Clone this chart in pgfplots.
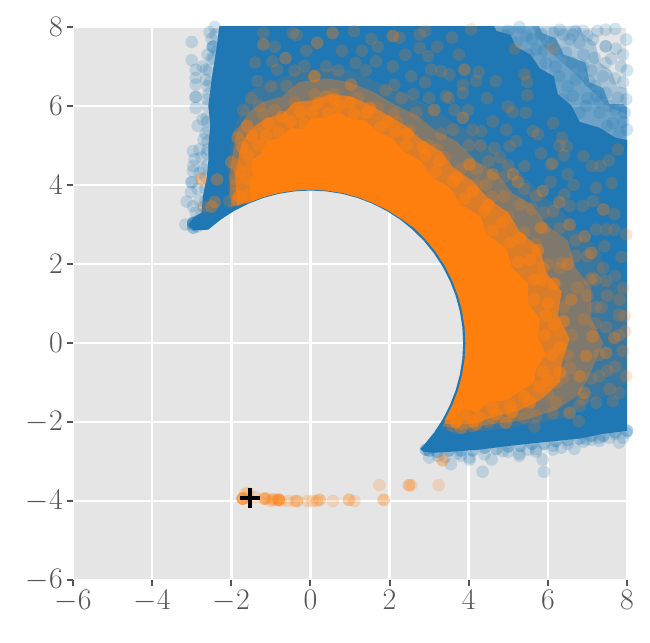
\documentclass[border=0pt]{standalone}
\usepackage{pgfplots}
\pgfplotsset{compat=1.18}
\definecolor{bgg}{HTML}{E5E5E5}
\definecolor{tk}{HTML}{555555}
\definecolor{tblue}{HTML}{1F77B4}
\definecolor{torange}{HTML}{FF7F0E}
\pgfplotsset{
  area/.style={draw=none,fill=#1,mark=none,forget plot},
  dots/.style={only marks,mark=*,mark size=6.3pt,forget plot,
    mark options={draw=#1,line width=0pt,draw opacity=0,fill=#1,fill opacity=0.2}},
  thick dots/.style={only marks,mark=*,mark size=6.3pt,forget plot,
    mark options={draw=#1,line width=0pt,draw opacity=0,fill=#1,fill opacity=0.5}},
}
\begin{document}
\begin{tikzpicture}[x=1pt,y=1pt]
\begin{axis}[
  at={(0,0)},anchor=south west,scale only axis,width=554pt,height=553pt,
  xmin=-6,xmax=8,ymin=-6,ymax=8,
  xtick={-6,-4,-2,0,2,4,6,8},ytick={-6,-4,-2,0,2,4,6,8},
  xtick pos=bottom,ytick pos=left,tick align=outside,
  major tick length=6pt,
  tick style={color=tk,line width=2pt},
  grid=major,grid style={white,line width=2.5pt},
  axis line style={draw=none},
  axis background/.style={fill=bgg},
  tick label style={font=\fontsize{24.88}{30}\selectfont,text=tk,scale=1.2},
]
% solid blue mass
\addplot[area=tblue] coordinates {
 (-2.95,2.85)(-3.08,3.0)(-2.95,3.18)(-2.75,3.3)(-2.72,3.7)(-2.62,4.2)(-2.58,4.6)(-2.58,5)(-2.53,5.5)(-2.58,6)(-2.53,6.4)(-2.48,6.8)(-2.38,7.4)(-2.28,8.2)
 (4.55,8.2)(4.7,7.9)(5.05,7.8)(5.2,7.5)(5.56,7.3)(5.8,6.95)(6.15,6.75)(6.25,6.3)(6.6,6.0)(6.8,5.6)(7.3,5.45)(7.7,5.2)(8.2,5.1)
 (8.2,-2.2)(7.4,-2.3)(6.8,-2.42)(6.2,-2.48)(5.53,-2.55)(4.9,-2.62)(4.27,-2.7)(3.6,-2.75)(3.1,-2.78)(2.85,-2.75)(2.777,-2.681)
 (2.869,-2.583)(3.123,-2.269)(3.343,-1.93)(3.526,-1.57)(3.671,-1.193)(3.776,-.803)(3.839,-.403)(3.86,0)
 (3.839,.403)(3.776,.803)(3.671,1.193)(3.526,1.57)(3.343,1.93)(3.123,2.269)(2.869,2.583)(2.583,2.869)
 (2.269,3.123)(1.93,3.343)(1.57,3.526)(1.193,3.671)(.803,3.776)(.403,3.839)(0,3.86)(-.403,3.839)
 (-.803,3.776)(-1.193,3.671)(-1.57,3.526)(-1.93,3.343)(-2.269,3.123)(-2.583,2.869)} --cycle;
% thinning blue towards the upper right corner
\addplot[area=tblue,fill opacity=0.6] coordinates {
 (4.3,8.2)(5.7,8.2)(5.85,7.85)(6.2,7.7)(6.4,7.3)(6.95,7.1)(7.05,6.6)(7.4,6.45)(7.55,6.05)(7.9,6.05)(8.2,5.8)(8.2,4.9)(7,5)(6,6)(5,7)} --cycle;
\addplot[area=tblue,fill opacity=0.3] coordinates {
 (5.5,8.2)(6.7,8.2)(6.9,7.8)(7.2,7.6)(7.3,7.1)(7.6,6.9)(7.75,6.5)(8.2,6.4)(8.2,5.7)(7.5,6)(6.7,6.8)(5.9,7.5)} --cycle;
\addplot[dots=tblue] coordinates {
 (-3,7.62)(-3,7.16)(-2.9,6.92)(-2.9,6.71)(-2.9,6.54)(-2.9,6.23)(-2.9,6.23)(-2.9,5.95)(-2.85,5.5)(-2.73,5.66)
 (-2.7,5.15)(-2.97,4.86)(-2.8,4.9)(-2.93,4.65)(-2.96,4.48)(-2.97,4.35)(-3,4.07)(-3,4.07)(-3.02,3.82)(-3.13,3.58)
 (-2.97,3.46)(-3.16,3)(-2.96,3.04)(-2.96,3.04)(-2.96,3.04)(-2.96,3.04)(-2.96,2.92)(-2.96,2.92)(-2.73,3.13)(-2.64,6.92)
 (-2.6,6.17)(-2.47,7.5)(-2.47,7.5)(-2.55,7.87)(-2.64,6.67)(-2.73,7)(-2.35,7.4)(-2.6,5.6)(-2.65,5.3)(-2.6,4.9)
 (-2.6,7.3)(-2.5,7.7)(-2.45,7.2)(-2.6,6.5)(-2.7,4.4)(-2.75,4.7)(-2.8,4.3)(-2.85,3.9)(-2.8,3.6)(-2.9,3.3)
 (4.35,-3.26)(5.9,-3.26)(5.87,-2.95)(3.55,-3.07)(3,-2.9)(3.22,-2.86)(4.02,-2.95)(4.02,-2.9)(4.58,-2.95)(5.28,-2.86)
 (5.28,-2.8)(5.7,-2.69)(5.7,-2.75)(6.12,-2.6)(6.12,-2.7)(6.67,-2.68)(6.34,-2.65)(7.3,-2.48)(7.3,-2.4)(7.8,-2.52)
 (7.98,-2.27)(6.97,-2.44)(4.86,-2.74)(2.92,-2.7)(2.92,-2.7)(3.8,-2.85)(4.4,-2.82)(5.0,-2.75)(6.5,-2.55)(7.1,-2.45)
 (7.55,-2.4)(7.7,-2.3)(7.9,-2.4)(3.4,-2.88)(3.7,-2.8)(5.5,-2.7)(6.9,-2.5)
 (6.63,7.8)(7,7.78)(7.46,7.51)(7.46,7.51)(7.72,7.45)(7.85,7)(7.18,7.22)(6.89,7)(6.46,7.35)(5.83,7.81)
 (5.45,7.77)(6.13,7.85)(7.39,6.75)(7.05,6.63)(7.77,6.21)(7.47,6.33)(7.94,5.83)(7.64,5.57)(7.3,5.83)(6.97,6)
 (6.63,6.25)(6.29,6.75)(5.95,7.09)(5.7,7.43)(6.71,6.67)(7.3,5.24)(7.8,5.32)(6.8,5.83)(6.38,6.17)(7.14,7.68)
 (6.8,7.6)(4.94,7.77)(5.28,8)(6.3,7.93)(7.98,7.68)(7.46,7.93)(7.9,6.6)(7.46,7.09)(6.55,7.68)(6.21,7.43)
 (7.22,6.25)(7.55,6)(7.98,6.17)(6.6,7.1)(6.9,7.3)(6.2,7.0)(7.1,6.9)(7.7,6.7)(6.5,6.5)(7.2,6.5)
 (5.6,7.7)(5.9,7.4)(6.1,7.6)(6.7,7.9)(7,6.2)(7.3,6.1)(7.7,5.9)(7.9,5.6)(7.5,5.5)(8,5.4)
 (5,7.9)(5.2,7.6)(5.5,7.3)(6.4,7.8)(6.9,7.9)(7.25,7.9)(7.9,7.3)(7.7,7.95)(8,6.9)(7.6,7.2)
};
\addplot[dots=tblue] coordinates {
 (-2.6,3.35)(-2.65,3.6)(-2.65,3.9)(-2.65,4.2)(-2.6,4.5)(-2.62,4.8)(-2.6,5.1)(-2.58,5.4)(-2.62,5.7)(-2.6,6)(-2.58,6.3)(-2.55,6.6)(-2.56,6.9)
 (-2.5,7.2)(-2.45,7.5)(-2.4,7.8)(-2.42,8.0)(-2.85,3.1)(-2.75,3.25)(-2.7,3.45)(-2.96,3.0)(-2.96,3.0)(-2.85,2.95)
 (3,-2.72)(3.2,-2.75)(3.5,-2.72)(3.8,-2.72)(4.1,-2.72)(4.4,-2.65)(4.7,-2.68)(5,-2.62)(5.3,-2.6)(5.6,-2.55)(5.9,-2.55)
 (6.2,-2.48)(6.5,-2.45)(6.8,-2.42)(7.1,-2.35)(7.4,-2.35)(7.7,-2.25)(8,-2.22)
 (3,-2.72)(3.2,-2.75)(3.5,-2.72)(3.8,-2.72)(4.1,-2.72)(4.4,-2.65)(4.7,-2.68)(5,-2.62)(5.3,-2.6)(5.6,-2.55)(5.9,-2.55)
 (6.2,-2.48)(6.5,-2.45)(6.8,-2.42)(7.1,-2.35)(7.4,-2.35)(7.7,-2.25)(8,-2.22)
};
% orange density, from thin to solid
\addplot[area=torange,fill opacity=0.12] coordinates {
 (-2.05,3.4)(-2.1,4.4)(-2.0,5.1)(-1.8,5.8)(-1.5,6.4)(-1,6.6)(-.4,6.85)(.3,6.95)(1,6.9)(1.7,6.6)(2.4,6.3)(3,6)(3.6,5.6)(4.1,5.3)
 (4.7,4.8)(5.2,4.4)(5.8,3.8)(6.3,3.4)(6.8,2.8)(7.3,2.4)(7.5,1.6)(8.2,1.3)(8.2,-.9)(7.6,-1.3)(7,-1.5)(6.4,-1.9)(5.6,-2.05)(4.6,-2.2)(3.7,-2.3)(3.3,-2.15)
 (3.395,-1.96)(3.581,-1.594)(3.728,-1.211)(3.834,-.815)(3.899,-.41)(3.92,0)(3.899,.41)(3.834,.815)(3.728,1.211)
 (3.581,1.594)(3.395,1.96)(3.171,2.304)(2.913,2.623)(2.623,2.913)(2.29,3.15)(1.945,3.37)(1.58,3.549)(1.2,3.695)
 (.808,3.8)(.406,3.864)(0,3.885)(-.406,3.864)(-.808,3.8)(-1.2,3.695)(-1.58,3.549)} --cycle;
\addplot[area=torange,fill opacity=0.35] coordinates {
 (-2.0,3.45)(-2.05,4.2)(-1.95,4.9)(-1.85,5.4)(-1.55,5.85)(-1.2,6.1)(-.7,6.25)(-.3,6.6)(.4,6.7)(1,6.6)(1.6,6.35)(2.1,6.05)(2.7,5.75)(3.2,5.35)
 (3.7,5.1)(4.2,4.6)(4.7,4.3)(5.1,3.8)(5.6,3.5)(6,2.95)(6.5,2.6)(6.7,1.9)(7.1,1.4)(7.1,.6)(7.4,0)(7.1,-.7)(6.8,-1.3)(6.2,-1.7)(5.4,-1.95)(4.6,-2.05)(3.8,-2.2)(3.35,-2.1)
 (3.395,-1.96)(3.581,-1.594)(3.728,-1.211)(3.834,-.815)(3.899,-.41)(3.92,0)(3.899,.41)(3.834,.815)(3.728,1.211)
 (3.581,1.594)(3.395,1.96)(3.171,2.304)(2.913,2.623)(2.623,2.913)(2.29,3.15)(1.945,3.37)(1.58,3.549)(1.2,3.695)
 (.808,3.8)(.406,3.864)(0,3.885)(-.406,3.864)(-.808,3.8)(-1.2,3.695)(-1.58,3.549)} --cycle;
\addplot[area=torange,fill opacity=0.72] coordinates {
 (-1.85,3.5)(-1.9,4.2)(-1.8,4.8)(-1.7,5.15)(-1.4,5.5)(-1.1,5.7)(-.7,5.8)(-.4,6.1)(.1,6.15)(.5,6.3)(1,6.25)(1.45,6.05)(1.9,5.8)(2.4,5.5)
 (2.8,5.15)(3.3,4.85)(3.6,4.45)(4.1,4.1)(4.5,3.65)(5,3.3)(5.3,2.8)(5.8,2.4)(5.95,1.8)(6.35,1.3)(6.25,.7)(6.55,.1)(6.35,-.5)(6.3,-1)(5.8,-1.45)(5.3,-1.7)(4.7,-1.85)(4.1,-2.05)(3.4,-2.05)
 (3.395,-1.96)(3.581,-1.594)(3.728,-1.211)(3.834,-.815)(3.899,-.41)(3.92,0)(3.899,.41)(3.834,.815)(3.728,1.211)
 (3.581,1.594)(3.395,1.96)(3.171,2.304)(2.913,2.623)(2.623,2.913)(2.29,3.15)(1.945,3.37)(1.58,3.549)(1.2,3.695)
 (.808,3.8)(.406,3.864)(0,3.885)(-.406,3.864)(-.808,3.8)(-1.2,3.695)(-1.58,3.549)} --cycle;
\addplot[area=torange] coordinates {
 (-1.5,3.6)(-1.55,4)(-1.45,4.3)(-1.5,4.6)(-1.25,4.8)(-1.1,5.1)(-.75,5.2)(-.5,5.45)(-.2,5.4)(.05,5.7)(.4,5.7)(.7,5.85)(1.05,5.65)(1.35,5.65)
 (1.7,5.35)(2.05,5.2)(2.35,4.85)(2.8,4.6)(3.05,4.2)(3.5,3.95)(3.8,3.5)(4.3,3.2)(4.45,2.75)(4.95,2.4)(5.1,1.9)(5.5,1.5)(5.5,1.0)(5.8,.6)
 (5.75,.15)(5.95,-.3)(5.7,-.65)(5.65,-1.0)(5.25,-1.25)(4.95,-1.45)(4.5,-1.5)(4.2,-1.75)(3.85,-1.65)(3.65,-1.9)(3.45,-1.95)
 (3.395,-1.96)(3.581,-1.594)(3.728,-1.211)(3.834,-.815)(3.899,-.41)(3.92,0)(3.899,.41)(3.834,.815)(3.728,1.211)
 (3.581,1.594)(3.395,1.96)(3.171,2.304)(2.913,2.623)(2.623,2.913)(2.29,3.15)(1.945,3.37)(1.58,3.549)(1.2,3.695)
 (.808,3.8)(.406,3.864)(0,3.885)(-.406,3.864)(-.808,3.8)(-1.2,3.695)(-1.58,3.549)} --cycle;
\addplot[thick dots=torange] coordinates {
 (-1.6,3.75)(-1.62,4.15)(-1.5,4.45)(-1.58,4.75)(-1.3,5.0)(-1.12,5.25)(-.8,5.33)(-.5,5.6)(-.15,5.55)(.05,5.85)(.45,5.82)(.72,6.0)(1.1,5.8)(1.42,5.82)
 (1.78,5.48)(2.15,5.35)(2.42,5.0)(2.9,4.75)(3.15,4.32)(3.6,4.1)(3.9,3.65)(4.4,3.35)(4.6,2.85)(5.05,2.55)(5.25,2.05)(5.65,1.6)(5.65,1.1)(5.95,.7)
 (5.92,.2)(6.1,-.3)(5.88,-.72)(5.8,-1.1)(5.4,-1.35)(5.05,-1.6)(4.6,-1.62)(4.25,-1.88)(3.9,-1.8)(3.68,-2)
 (-1.8,3.72)(-1.78,4.35)(-1.72,4.95)(-1.48,5.25)(-1.05,5.55)(-.72,5.72)(-.25,5.85)(.2,6.08)(.6,6.17)(1,6.08)(1.5,5.95)(1.95,5.6)(2.45,5.3)(2.85,4.95)
 (3.25,4.6)(3.7,4.2)(4.1,3.85)(4.5,3.5)(4.85,3.05)(5.3,2.65)(5.55,2.1)(5.85,1.6)(6,1.0)(6.15,.45)(6.3,-.1)(6,-.95)(5.55,-1.5)(5.1,-1.75)(4.7,-1.8)(4.1,-1.98)
 (6.4,.55)(6.3,-.75)(6.15,1.5)(5.75,2.35)
};
\addplot[dots=torange] coordinates {
 (-1.71,-3.94)(-1.71,-3.94)(-1.71,-3.94)(-1.71,-3.94)(-1.71,-3.94)(-1.6,-3.92)(-1.58,-3.79)(-1.65,-3.82)(-1.4,-3.9)
 (-1.16,-3.94)(-1.16,-3.94)(-1.16,-3.94)(-1.1,-3.94)(-.95,-3.96)(-.95,-3.96)(-.8,-3.97)(-.8,-3.97)(-.8,-3.97)(-.8,-3.97)(-.85,-3.97)
 (-1,-4)(-.75,-4)(-.57,-4)(-.34,-4)(-.34,-4)(-.4,-4)(-.07,-4)(.05,-4)(.23,-3.97)(.23,-3.97)(.16,-4)(.57,-4)
 (.97,-3.97)(.97,-3.97)(1.11,-4)(1.85,-3.97)(1.85,-3.97)(1.74,-3.6)(2.49,-3.6)(2.49,-3.6)(2.55,-3.6)(3.24,-3.6)(3.34,-2.97)(3.34,-2.97)
 (-1.9,3.8)(-1.9,4.5)(-1.8,5.3)(-1.6,5.5)(-1.2,5.8)(-.9,5.9)(-.4,6.1)(.1,6.3)(.6,6.3)(1.2,6.2)(1.7,5.95)(2.2,5.6)(2.5,5.4)(3,5.0)
 (3.4,4.7)(3.8,4.4)(4.2,4.0)(4.6,3.7)(5,3.2)(5.4,2.8)(5.7,2.5)(6,2)(6.2,1.5)(6.4,.9)(6.3,.3)(6.5,-.3)(6.2,-1)(6,-1.3)(5.5,-1.6)(5.1,-1.75)
 (4.6,-1.9)(4.1,-2.1)(3.6,-2.1)(6.6,.2)(6.3,1.9)(5.9,2.9)(4.9,3.7)(4.2,4.4)(3.2,4.9)(2.1,5.8)
 (3.58,7.73)(4.06,7.94)(3.75,7.3)(4.25,6.86)(3.89,6.92)(3.89,6.92)(4.68,6.63)(5.47,6.61)(5.48,6.27)(5.41,6.8)
 (4.46,6.2)(4.99,5.98)(5.11,5.85)(5.44,5.83)(6.13,5.57)(5.62,5.36)(5.75,5.28)(5.17,7.45)(6.1,7.45)(6.36,5.2)
 (6.48,4.98)(6.29,5)(5.83,4.8)(5.41,4.48)(6.9,4.73)(7.77,4.9)(7.54,4.62)(7.33,4.48)(7.12,4.48)(6.5,4.27)
 (6.08,4.52)(6.12,4.55)(6.4,4.75)(6.07,4.08)(6.65,4)(5.24,4.08)(5.24,4.08)(5.03,4.98)(5.2,5.11)(4.65,4.94)
 (4.95,5.4)(4.61,5.61)(4.32,5.36)(3.85,5.7)(3.85,5.7)(3.98,5.9)(3.64,5.9)(3.13,5.9)(3.13,5.9)(2.67,5.83)
 (2.12,6.54)(1.03,6.54)(1.03,6.54)(2.08,7.77)(2.08,7.77)(2.25,7.73)(2.76,7.81)(2.76,7.47)(2.97,7.26)(2.55,6.75)
 (3.05,6.92)(3.3,6.88)(3.51,6.8)(3.85,6.54)(4.19,6.63)(3.85,6.33)(3.43,6.25)(1.54,7.7)(1.66,7.13)(1.14,7.09)
 (2.08,7)(7.61,4.05)(7.22,3.93)(7.4,3.38)(7.4,3.38)(7.68,3.26)(7.14,3.59)(6.93,2.7)(6.93,2.7)(7.47,2.87)
 (7.68,2.87)(7.22,2.87)(7.1,2.28)(7.43,2.45)(7.98,2.75)(7.86,2.18)(6.55,3)(6.55,3)(5.83,2.92)(5.83,2.92)
 (6.29,3.56)(6.29,3.56)(5.87,3.85)(5.87,3.85)(6.42,3.76)(6.88,3.47)(5.7,3.72)(6.13,3.34)(6.55,3.47)(5.12,4.27)
 (5.12,4.27)(4.44,4.01)(4.61,4.27)(4.61,4.27)(4.02,4.52)(4.02,4.52)(4.02,4.52)
 (-2.76,4.14)(-2.76,4.14)(-2.36,4.14)(-2.36,4.14)(-2.7,3.45)(-2.5,3.45)(-2.5,3.45)(-2.42,3.57)(-2.42,3.57)(-1.84,3.63)
 (-1.84,3.63)(-1.84,3.63)(-2.05,3.59)(-1.88,4.14)(-2,4.58)(-2,4.58)(-1.88,4)(-1.84,5.2)(-1.84,5.2)(-1.59,5.49)
 (-1.59,5.49)(-1.34,6.63)(-1.19,7.56)(-1.19,7.56)(-1.19,7.85)(-.84,6.92)(-.63,7.21)(-.63,7.21)(.1,6.75)(.1,6.75)
 (.1,6.75)(.39,6.24)(.39,6.24)(.56,7.85)(.56,7.85)(.17,7.6)(.17,7.6)(-.45,7.85)(-.35,7.8)(-.96,7.13)
 (-.15,7.01)(-1.5,6.2)(-1.7,5.9)(-1.3,6)(-1,6.5)(-.6,6.5)(-.4,6.9)(-.9,7.5)(.4,7)(.8,7.4)
 (1.1,7.9)(1.4,6.9)(1.9,6.4)(2.3,6.2)(2.6,6.3)(2.9,6.6)(1.7,7.5)(.7,6.9)(-1.4,7.1)(-.1,7.4)
 (1.3,7.4)(2.4,7.3)(3.2,7.5)(2.9,7.9)(3.5,6.2)(3.0,6.2)(4.1,5.4)(4.3,5.0)(3.6,5.4)(3.3,5.3)
 (4.0,5.0)(4.8,4.7)(4.5,4.6)(5.0,4.5)(5.4,3.9)(4.9,4.2)(5.6,3.4)(5.3,3.5)(5.9,3.3)(6.3,2.9)
 (6.7,2.6)(7.0,2.2)(6.7,2.2)(7.4,1.9)(7.7,1.7)(7.2,1.6)(7.9,1.4)(7.5,1.2)(7.2,.9)(7.8,.7)
 (3.68,-1.98)(3.68,-1.98)(3.68,-1.98)(3.81,-2.15)(3.81,-2.15)(4.19,-2.06)(4.19,-2.06)(4.94,-2.02)(4.94,-2.02)(5.66,-2.11)(6.78,-1.98)
 (6.55,-1.77)(6.55,-1.77)(7.68,.13)(7.68,.13)(7.47,1.57)(6.5,1.99)(6.5,1.99)(5.87,1.9)(5.87,1.9)(6.59,1.1)
 (6.59,1.1)(7.13,.17)(7.13,.17)(7.06,1.6)(7.47,-.25)(7.47,-.25)(7.81,-1.26)(7.22,-1.51)(6.92,-1.26)(6.92,-1.26)
 (7.64,-1.47)(7.3,-.84)(7.56,-1.17)(6.8,-.84)(6.8,-.84)(6.38,-.88)(6.12,.68)(6.97,-.33)(6.97,-.33)(7.47,.4)
 (7.13,1.65)(7.94,.68)(7.81,1.1)(6.12,-1.77)(6.55,-.63)(5.7,-1.85)(6.88,-1.43)(7.98,-.84)(7.09,2.28)(6.34,2.03)
 (7.3,-.3)(7.7,-.6)(7.2,.5)(6.9,.6)(7.5,-.7)(5.4,-1.9)(5.0,-1.9)(4.5,-2.0)(6.2,-1.5)(6.8,-1.6)
 (7.1,-.9)(7.9,-.2)(7.8,.2)(7.95,.3)(7.35,.9)(7,1.2)(6.75,1.4)
};
% marked point
\addplot[only marks,mark=+,mark size=10pt,black,mark options={line width=4.2pt},forget plot] coordinates {(-1.52,-3.92)};
\end{axis}
\pgfresetboundingbox
\path[use as bounding box] (-73pt,-62pt) rectangle (577pt,580pt);
\end{tikzpicture}
\end{document}
